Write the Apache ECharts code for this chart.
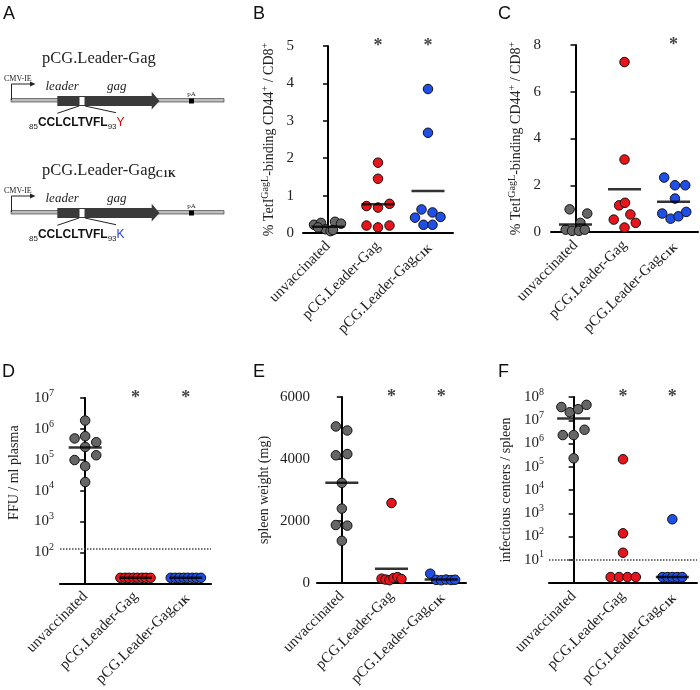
<!DOCTYPE html>
<html><head><meta charset="utf-8">
<script src="https://cdn.jsdelivr.net/npm/echarts@6/dist/echarts.min.js"></script>
<style>html,body{margin:0;padding:0;background:#fff}#c{width:700px;height:690px}</style>
</head><body><div id="c"></div>
<script>
const categories = ['unvaccinated', 'pCG.Leader-Gag', 'pCG.Leader-Gag{sub|C1K}'];

// Panel B
const B_unvacc = [0.22, 0.27, 0.10, 0.05, 0.30, 0.25, 0.15, 0.08];
const B_unvacc_jit = [-0.28, -0.14, -0.05, 0.05, 0.14, 0.26, -0.20, 0.10];
const B_leader = [1.88, 1.45, 0.72, 0.68, 0.78, 0.20, 0.15, 0.20];
const B_leader_jit = [0, 0, -0.23, 0, 0.23, -0.23, 0, 0.23];
const B_c1k = [3.85, 2.68, 0.63, 0.55, 0.41, 0.43, 0.22, 0.22];
const B_c1k_jit = [0, 0, -0.13, 0.09, -0.26, 0.25, -0.09, 0.09];
const B_means = [0.17, 0.77, 1.12];
const B_stars = [1, 2];

// Panel C
const C_unvacc = [0.97, 0.79, 0.39, 0.10, 0.05, 0.05, 0.10];
const C_unvacc_jit = [-0.12, 0.24, 0.10, -0.20, -0.07, 0.07, 0.19];
const C_leader = [7.27, 3.10, 1.14, 1.25, 0.75, 0.53, 0.39, 0.19];
const C_leader_jit = [0, 0, -0.11, 0.01, 0.12, -0.22, 0.23, 0];
const C_c1k = [2.33, 2.00, 2.00, 1.43, 0.79, 0.57, 0.67, 0.86];
const C_c1k_jit = [-0.19, 0.03, 0.24, 0.03, -0.23, -0.06, 0.10, 0.26];
const C_means = [0.32, 1.83, 1.29];
const C_stars = [2];

// Panel D (FFU / ml plasma)
const D_unvacc = [1.86e6, 4.9e5, 5.8e5, 3.7e5, 2.6e5, 1.4e5, 9.8e4, 6.2e4, 1.9e4];
const D_unvacc_jit = [0, -0.21, 0, 0.22, 0, 0.22, -0.21, 0, 0];
const D_leader = [15, 15, 15, 15, 15, 15, 15, 15];
const D_leader_jit = [-0.3, -0.21, -0.13, -0.04, 0.04, 0.13, 0.21, 0.3];
const D_c1k = [15, 15, 15, 15, 15, 15, 15, 15];
const D_c1k_jit = [-0.3, -0.21, -0.13, -0.04, 0.04, 0.13, 0.21, 0.3];
const D_means = [2.5e5, 15, 15];
const D_limit = 130;
const D_stars = [1, 2];

// Panel E (spleen weight, mg)
const E_unvacc = [5050, 4920, 4120, 4160, 3230, 2400, 1870, 1850, 1360];
const E_unvacc_jit = [-0.12, 0.11, -0.12, 0.11, 0, 0, -0.12, 0.11, 0];
const E_leader = [2580, 140, 110, 90, 160, 190, 130];
const E_leader_jit = [0, -0.2, -0.12, -0.04, 0.04, 0.12, 0.2];
const E_c1k = [300, 100, 90, 110, 95, 105];
const E_c1k_jit = [-0.22, -0.1, 0, 0.1, 0.2, 0.28];
const E_means = [3230, 460, 110];
const E_stars = [1, 2];

// Panel F (infectious centers / spleen)
const F_unvacc = [3.7e7, 2.2e7, 3.0e7, 4.6e7, 2.3e6, 2.3e6, 3.9e6, 2.3e5];
const F_unvacc_jit = [-0.25, -0.08, 0.09, 0.26, -0.22, 0, 0.22, 0];
const F_leader = [2.1e5, 137, 20, 1.8, 1.8, 1.8, 1.8];
const F_leader_jit = [0, 0, 0, -0.25, -0.08, 0.09, 0.26];
const F_c1k = [550, 1.8, 1.8, 1.8, 1.8, 1.8];
const F_c1k_jit = [0, -0.2, -0.1, 0, 0.1, 0.2];
const F_means = [1.2e7, null, 1.8];
const F_limit = 10;
const F_stars = [1, 2];

const COLORS = ['#666666', '#e8141c', '#1f4fe6'];
const SERIF = '"Liberation Serif", "Times New Roman", serif';
const SANS = '"Liberation Sans", Arial, sans-serif';
const TICK_FS = 15;

const grids = [
  {left: 303, top: 46, width: 150, height: 187},
  {left: 551, top: 45, width: 147, height: 187},
  {left: 60, top: 398, width: 151, height: 186},
  {left: 317, top: 397, width: 149, height: 186},
  {left: 549, top: 397, width: 148, height: 186}
];

const xAxes = [];
grids.forEach((g, p) => {
  xAxes.push({
    type: 'category', gridIndex: p, data: categories, boundaryGap: true,
    axisLine: {lineStyle: {color: '#000', width: 2}},
    axisTick: {alignWithLabel: true, length: 5, lineStyle: {color: '#000', width: 1.5}},
    axisLabel: {rotate: 45, interval: 0, margin: 11, fontFamily: SERIF, fontSize: 15, color: '#222', lineHeight: 18,
      rich: {sub: {fontFamily: SERIF, fontSize: 10, fontWeight: 'bold', color: '#222', verticalAlign: 'bottom'}}},
    splitLine: {show: false}
  });
  xAxes.push({type: 'value', gridIndex: p, min: -0.5, max: 2.5, show: false});
});

const supRich = {sup: {fontFamily: SERIF, fontSize: 10, color: '#222', verticalAlign: 'top'}};
function yBase(p, extra) {
  return Object.assign({
    gridIndex: p,
    axisLine: {show: true, lineStyle: {color: '#000', width: 2}},
    axisTick: {show: true, length: 5, lineStyle: {color: '#000', width: 1.5}},
    splitLine: {show: false},
    nameLocation: 'middle',
    nameTextStyle: {fontFamily: SERIF, fontSize: 14, color: '#222', lineHeight: 18, rich: supRich}
  }, extra);
}
function powLabel(hideExp) {
  return function (v) {
    const e = Math.round(Math.log10(v));
    if (e === hideExp) return '';
    return '10{sup|' + e + '}';
  };
}
const plain = v => String(v);
const tetName = '% TetI{sup|GagL}-binding CD44{sup|+} / CD8{sup|+}';
const yAxes = [
  yBase(0, {type: 'value', min: 0, max: 5, interval: 1, name: tetName, nameGap: 25,
    axisLabel: {margin: 9, fontFamily: SERIF, fontSize: TICK_FS, color: '#222', formatter: plain}}),
  yBase(1, {type: 'value', min: 0, max: 8, interval: 2, name: tetName, nameGap: 26,
    axisLabel: {margin: 10, fontFamily: SERIF, fontSize: TICK_FS, color: '#222', formatter: plain}}),
  yBase(2, {type: 'log', logBase: 10, min: 10, max: 1e7, splitNumber: 6, name: 'FFU / ml plasma', nameGap: 37,
    nameTextStyle: {fontFamily: SERIF, fontSize: 14, color: '#222', lineHeight: 18, padding: [0, 0, 0, 36]},
    axisLabel: {margin: 6, fontFamily: SERIF, fontSize: TICK_FS, color: '#222', lineHeight: 20, formatter: powLabel(1), rich: supRich}}),
  yBase(3, {type: 'value', min: 0, max: 6000, interval: 2000, name: 'spleen weight (mg)', nameGap: 44,
    axisLabel: {margin: 7, fontFamily: SERIF, fontSize: TICK_FS, color: '#222', formatter: plain}}),
  yBase(4, {type: 'log', logBase: 10, min: 1, max: 1e8, splitNumber: 8, name: 'infectious centers / spleen', nameGap: 34,
    axisLabel: {margin: 5, fontFamily: SERIF, fontSize: TICK_FS, color: '#222', lineHeight: 20, formatter: powLabel(0), rich: supRich}})
];

const series = [];
function addPanel(p, groups, jits, means, stars, top, limit) {
  groups.forEach((vals, g) => {
    const s = {
      type: 'scatter', xAxisIndex: 2 * p + 1, yAxisIndex: p, symbol: 'circle', symbolSize: 9.5, z: 3,
      itemStyle: {color: COLORS[g], borderColor: '#111', borderWidth: 1, opacity: 1},
      data: vals.map((v, i) => [g + jits[g][i], v])
    };
    if (g === 0 && limit != null) {
      s.markLine = {silent: true, symbol: 'none', label: {show: false},
        lineStyle: {type: 'dotted', color: '#444', width: 1.5}, data: [{yAxis: limit}]};
    }
    series.push(s);
  });
  const md = [];
  means.forEach((m, g) => { if (m != null) md.push([g, m]); });
  series.push({type: 'scatter', xAxisIndex: 2 * p + 1, yAxisIndex: p, symbol: 'rect', symbolSize: [33, 2.5], z: 4,
    itemStyle: {color: '#000'}, data: md});
  series.push({type: 'scatter', xAxisIndex: 2 * p + 1, yAxisIndex: p, symbolSize: 1, z: 5,
    itemStyle: {color: 'rgba(0,0,0,0)'},
    label: {show: true, position: 'inside', formatter: '*', fontFamily: SERIF, fontSize: 18, fontWeight: 'bold', color: '#111'},
    data: stars.map(g => [g, top])});
}
addPanel(0, [B_unvacc, B_leader, B_c1k], [B_unvacc_jit, B_leader_jit, B_c1k_jit], B_means, B_stars, 5, null);
addPanel(1, [C_unvacc, C_leader, C_c1k], [C_unvacc_jit, C_leader_jit, C_c1k_jit], C_means, C_stars, 8, null);
addPanel(2, [D_unvacc, D_leader, D_c1k], [D_unvacc_jit, D_leader_jit, D_c1k_jit], D_means, D_stars, 1e7, D_limit);
addPanel(3, [E_unvacc, E_leader, E_c1k], [E_unvacc_jit, E_leader_jit, E_c1k_jit], E_means, E_stars, 6000, null);
addPanel(4, [F_unvacc, F_leader, F_c1k], [F_unvacc_jit, F_leader_jit, F_c1k_jit], F_means, F_stars, 1e8, F_limit);

// Panel A schematic
function txt(x, y, text, font, fill, extra) {
  return {type: 'text', x: x, y: y, silent: true, style: Object.assign({
    text: text, font: font, fill: fill || '#222',
    align: 'left', textAlign: 'left', verticalAlign: 'middle', textVerticalAlign: 'middle'}, extra || {})};
}
function construct(dy, title, last, lastColor) {
  const D = '#3a3a3a';
  return [
    txt(42, 59 + dy, title, '16px ' + SERIF, '#222', {rich: {
      t: {fontFamily: SERIF, fontSize: 16.5, fill: '#222'},
      sub: {fontFamily: SERIF, fontSize: 10, fontWeight: 'bold', fill: '#222', verticalAlign: 'bottom'}}}),
    txt(4, 79 + dy, 'CMV-IE', '8px ' + SERIF),
    {type: 'rect', silent: true, shape: {x: 11, y: 98.5 + dy, width: 213, height: 3.5}, style: {fill: '#bdbdbd', stroke: '#444', lineWidth: 0.7}},
    {type: 'polyline', silent: true, shape: {points: [[11.5, 100 + dy], [11.5, 84 + dy], [31, 84 + dy]]}, style: {stroke: '#222', lineWidth: 1, fill: null}},
    {type: 'polygon', silent: true, shape: {points: [[30, 81.5 + dy], [35.5, 84 + dy], [30, 86.5 + dy]]}, style: {fill: '#222'}},
    txt(45.5, 87 + dy, 'leader', 'italic 13px ' + SERIF),
    txt(107, 87 + dy, 'gag', 'italic 13px ' + SERIF),
    {type: 'rect', silent: true, shape: {x: 57.3, y: 96 + dy, width: 21.7, height: 10}, style: {fill: D}},
    {type: 'polygon', silent: true, shape: {points: [[85, 96 + dy], [151.7, 96 + dy], [151.7, 91.7 + dy], [159.5, 101 + dy], [151.7, 109.5 + dy], [151.7, 106 + dy], [85, 106 + dy]]}, style: {fill: D}},
    {type: 'rect', silent: true, shape: {x: 79, y: 96.5 + dy, width: 6, height: 9}, style: {fill: '#fff', stroke: D, lineWidth: 1}},
    {type: 'rect', silent: true, shape: {x: 189, y: 98.5 + dy, width: 5, height: 5}, style: {fill: '#000'}},
    txt(191.5, 94 + dy, 'pA', '7px ' + SERIF, '#222', {align: 'center', textAlign: 'center'}),
    {type: 'line', silent: true, shape: {x1: 79, y1: 106 + dy, x2: 57.3, y2: 113.3 + dy}, style: {stroke: '#222', lineWidth: 1}},
    {type: 'line', silent: true, shape: {x1: 85, y1: 106 + dy, x2: 116, y2: 112.7 + dy}, style: {stroke: '#222', lineWidth: 1}},
    txt(29, 123 + dy, '{s|85}{b|CCLCLTVFL}{s|93}{r|' + last + '}', '12px ' + SANS, '#222', {rich: {
      s: {fontFamily: SANS, fontSize: 8, fill: '#222', verticalAlign: 'bottom'},
      b: {fontFamily: SANS, fontSize: 12, fontWeight: 'bold', fill: '#111', lineHeight: 15},
      r: {fontFamily: SANS, fontSize: 12, fill: lastColor, lineHeight: 15}}})
  ];
}
const letterFont = '18px ' + SANS;
const graphics = [].concat(
  construct(0, '{t|pCG.Leader-Gag}', 'Y', '#e00000'),
  construct(112, '{t|pCG.Leader-Gag}{sub|C1K}', 'K', '#2a3fd6'),
  [
    txt(3, 14, 'A', letterFont, '#111'),
    txt(253, 14, 'B', letterFont, '#111'),
    txt(498, 14, 'C', letterFont, '#111'),
    txt(2, 372, 'D', letterFont, '#111'),
    txt(253, 372, 'E', letterFont, '#111'),
    txt(498, 372, 'F', letterFont, '#111')
  ]
);

const chart = echarts.init(document.getElementById('c'), null, {renderer: 'canvas'});
chart.setOption({
  animation: false,
  backgroundColor: '#fff',
  grid: grids,
  xAxis: xAxes,
  yAxis: yAxes,
  series: series,
  graphic: {elements: graphics}
});
</script></body></html>
